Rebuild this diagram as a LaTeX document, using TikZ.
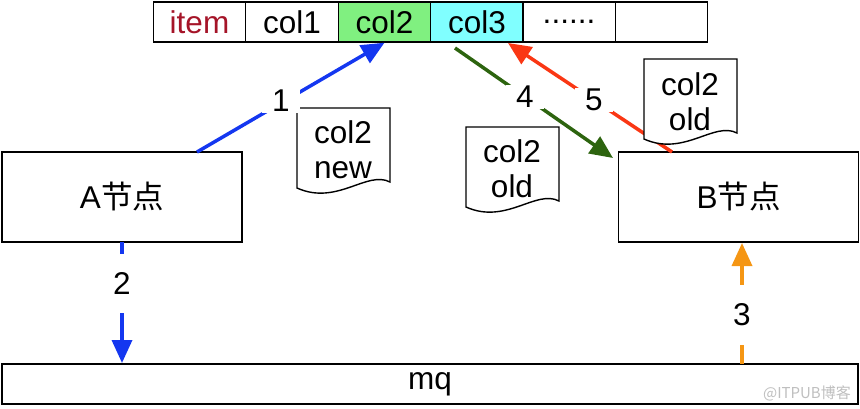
\documentclass[tikz,border=0pt]{standalone}
\usepackage{fontspec}
\setmainfont{Liberation Sans}
\newfontfamily\cjk{Noto Sans CJK SC}
\usetikzlibrary{arrows.meta,calc}
\definecolor{cblue}{RGB}{20,55,240}
\definecolor{cgreen}{RGB}{45,100,15}
\definecolor{cred}{RGB}{250,55,20}
\definecolor{corange}{RGB}{245,150,20}
\definecolor{fgreen}{RGB}{128,240,128}
\definecolor{fcyan}{RGB}{128,255,255}
\definecolor{itemred}{RGB}{165,20,40}
\newcommand\fsz{\fontsize{31.5}{35}\selectfont}
\begin{document}
\begin{tikzpicture}[x=1pt,y=-1pt,
  cell/.style={draw,line width=1.4pt,minimum width=92.5pt,minimum height=40pt,inner sep=0pt,font=\fsz},
  box/.style={draw,line width=1.4pt,minimum width=240pt,minimum height=90pt,inner sep=0pt,font=\fsz},
  arr/.style={line width=3.5pt,-{Triangle[length=23pt,width=20pt]}},
  lab/.style={fill=white,inner xsep=10pt,inner ysep=1pt,font=\fsz},
  vlab/.style={fill=white,inner xsep=6pt,inner ysep=18.5pt,font=\fsz},
  doctext/.style={align=center,inner sep=0pt,font=\fsz},
  docu/.pic={\draw[line width=1.4pt,fill=white] (0,0) -- (93,0) -- (93,74) .. controls (70,62) and (40,98) .. (0,80) -- cycle;}
]
\useasboundingbox (0,0) rectangle (860,408);
% table
\node[cell,text=itemred] (c0) at (199.5,22) {item};
\node[cell] (c1) at (292,22) {col1};
\node[cell,fill=fgreen] (c2) at (384.5,22) {col2};
\node[cell,fill=fcyan] (c3) at (477,22) {col3};
\node[cell] (c4) at (569,22) {......};
\node[cell] (c5) at (661.5,22) {};
% boxes
\node[box] (A) at (122,197) {A{\cjk 节点}};
\node[box] (B) at (738.5,197) {B{\cjk 节点}};
\node[draw,line width=1.4pt,minimum width=856pt,minimum height=40pt,inner sep=0pt,font=\fsz] (mq) at (430,384) {mq};
% arrow anchor points
\coordinate (a1s) at (197,152);
\coordinate (a4s) at (455,48);
\coordinate (a4e) at (613,158);
\coordinate (a5s) at (672,152);
\coordinate (a5e) at (508,43);
\coordinate (a2s) at (122,242);
\coordinate (a2e) at (122,363);
\coordinate (a3s) at (742,364);
\coordinate (a3e) at (742,243);
% arrows
\draw[arr,cblue] (a1s) -- (c2.south);
\draw[arr,cgreen] (a4s) -- (a4e);
\draw[arr,cred] (a5s) -- (a5e);
\draw[arr,cblue] (a2s) -- (a2e);
\draw[arr,corange] (a3s) -- (a3e);
% documents
\pic at (297,108) {docu};
\pic at (466,127) {docu};
\pic at (644,59) {docu};
\node[doctext] (t1) at (343,150) {col2\\new};
\node[doctext] (t2) at (512,169) {col2\\old};
\node[doctext] (t3) at (690,102) {col2\\old};
% labels
\node[lab] (l1) at (281,101) {1};
\node[lab] (l4) at (525,97) {4};
\node[lab] (l5) at (594,100) {5};
\node[vlab] (l2) at (122,283) {2};
\node[vlab] (l3) at (742,315) {3};
% watermark
\node[text=black!25,font=\cjk\fontsize{15}{18}\selectfont,inner sep=0pt,anchor=east] (wm) at (851,393) {@ITPUB博客};
\end{tikzpicture}
\end{document}
